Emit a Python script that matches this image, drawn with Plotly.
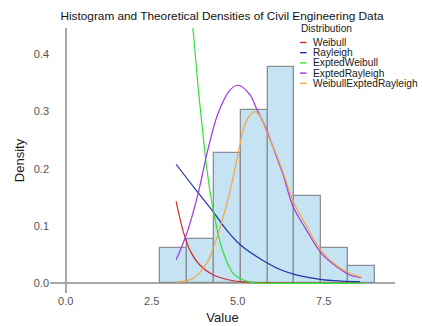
import plotly.graph_objects as go

# Histogram (density) data
bin_centers = [3.14, 3.915, 4.695, 5.48, 6.26, 7.035, 7.815, 8.60]
bin_heights = [0.061, 0.077, 0.227, 0.303, 0.378, 0.152, 0.061, 0.031]
bin_width = 0.78

# Theoretical densities
weibull_x = [3.21, 3.42, 3.61, 3.90, 4.29, 4.87, 5.45, 6.2, 7.0, 7.8, 8.6]
weibull_y = [0.143, 0.090, 0.058, 0.032, 0.0145, 0.0045, 0.0017, 0.0004, 0.0001, 0.0, 0.0]

rayleigh_x = [3.21, 3.71, 4.29, 4.68, 5.10, 5.65, 6.2, 6.62, 7.39, 8.0, 8.55]
rayleigh_y = [0.208, 0.169, 0.125, 0.093, 0.066, 0.043, 0.025, 0.016, 0.007, 0.004, 0.003]

eweibull_x = [3.21, 3.35, 3.5, 3.70, 4.05, 4.19, 4.30, 4.53, 4.86, 5.06, 5.36, 6.0, 7.0, 8.0, 8.6]
eweibull_y = [1.3, 0.9, 0.64, 0.445, 0.227, 0.163, 0.125, 0.063, 0.018, 0.009, 0.002, 0.0, 0.0, 0.0, 0.0]

erayleigh_x = [3.21, 3.52, 3.85, 4.12, 4.43, 4.78, 5.02, 5.36, 5.55, 5.84, 6.13, 6.32, 6.61, 7.0, 7.44, 7.88, 8.26, 8.6]
erayleigh_y = [0.041, 0.087, 0.157, 0.230, 0.297, 0.338, 0.346, 0.329, 0.305, 0.268, 0.221, 0.190, 0.134, 0.093, 0.052, 0.029, 0.0145, 0.010]

wer_x = [3.22, 3.71, 4.10, 4.34, 4.58, 4.83, 5.05, 5.15, 5.30, 5.50, 5.65, 5.84, 6.13, 6.37, 6.62, 7.05, 7.44, 7.9, 8.25, 8.6]
wer_y = [0.002, 0.009, 0.035, 0.070, 0.116, 0.175, 0.238, 0.266, 0.289, 0.300, 0.292, 0.265, 0.224, 0.185, 0.142, 0.095, 0.056, 0.030, 0.018, 0.0105]

series = [
    ("Weibull", weibull_x, weibull_y, "#d02a2a"),
    ("Rayleigh", rayleigh_x, rayleigh_y, "#2232a8"),
    ("ExptedWeibull", eweibull_x, eweibull_y, "#33e033"),
    ("ExptedRayleigh", erayleigh_x, erayleigh_y, "#a035e6"),
    ("WeibullExptedRayleigh", wer_x, wer_y, "#f2a83a"),
]

x_ticks = [0.0, 2.5, 5.0, 7.5]
x_tick_labels = ["0.0", "2.5", "5.0", "7.5"]
y_ticks = [0.0, 0.1, 0.2, 0.3, 0.4]
y_tick_labels = ["0.0", "0.1", "0.2", "0.3", "0.4"]

FONT = "Liberation Sans, Arial, sans-serif"

fig = go.Figure()
fig.add_trace(go.Bar(
    x=bin_centers, y=bin_heights, width=bin_width,
    marker=dict(color="#c5e3f2", line=dict(color="#8a9096", width=1.3)),
    showlegend=False, hoverinfo="x+y",
))
for name, xs, ys, col in series:
    fig.add_trace(go.Scatter(
        x=xs, y=ys, mode="lines", name=name,
        line=dict(color=col, width=1.2, shape="spline", smoothing=1.0),
        showlegend=False,
    ))

# plot area in pixels: x 50..395, y 28..293
L, R, T, B = 50, 28, 28, 33
W, H = 423, 326
pw, ph = W - L - R, H - T - B

def px(xp):
    return (xp - L) / pw

def py(yp):
    return (H - B - yp) / ph

annotations = []
shapes = []
LEG_FS = 10.2
annotations.append(dict(text="Distribution", x=px(299), y=py(28.8), xref="paper", yref="paper",
                        xanchor="left", yanchor="middle", showarrow=False,
                        font=dict(family=FONT, size=LEG_FS, color="#1a1a1a")))
rows = [42.5, 52.7, 62.9, 73.1, 83.3]
for (name, xs, ys, col), yr in zip(series, rows):
    annotations.append(dict(text=name, x=px(311), y=py(yr), xref="paper", yref="paper",
                            xanchor="left", yanchor="middle", showarrow=False,
                            font=dict(family=FONT, size=LEG_FS, color="#1a1a1a")))
    shapes.append(dict(type="line", xref="paper", yref="paper",
                       x0=px(300), x1=px(306.5), y0=py(yr), y1=py(yr),
                       line=dict(color=col, width=1.4)))

fig.update_layout(
    template="none",
    width=W, height=H,
    margin=dict(l=L, r=R, t=T, b=B, autoexpand=False),
    paper_bgcolor="white", plot_bgcolor="white",
    bargap=0,
    title=dict(text="Histogram and Theoretical Densities of Civil Engineering Data",
               x=222 / W, xref="container", xanchor="center",
               y=1 - 15.5 / H, yref="container", yanchor="middle",
               font=dict(family=FONT, size=11.8, color="#111111")),
    font=dict(family=FONT),
    annotations=annotations,
    shapes=shapes,
    xaxis=dict(range=[-0.456, 9.573], showgrid=False, zeroline=True, automargin=False,
               zerolinecolor="#a8a8a8", zerolinewidth=1.5,
               tickvals=x_ticks, ticktext=x_tick_labels, ticks="",
               tickfont=dict(family=FONT, size=11, color="#555555"),
               title=dict(text="Value", font=dict(family=FONT, size=13, color="#1a1a1a"), standoff=6),
               showline=False),
    yaxis=dict(range=[-0.0169, 0.446], showgrid=False, zeroline=True, automargin=False,
               zerolinecolor="#a8a8a8", zerolinewidth=1.5,
               tickvals=y_ticks, ticktext=y_tick_labels, ticks="",
               tickfont=dict(family=FONT, size=11, color="#555555"),
               title=dict(text="Density", font=dict(family=FONT, size=13, color="#1a1a1a"), standoff=6),
               showline=False),
)

fig.write_html("out.html")
